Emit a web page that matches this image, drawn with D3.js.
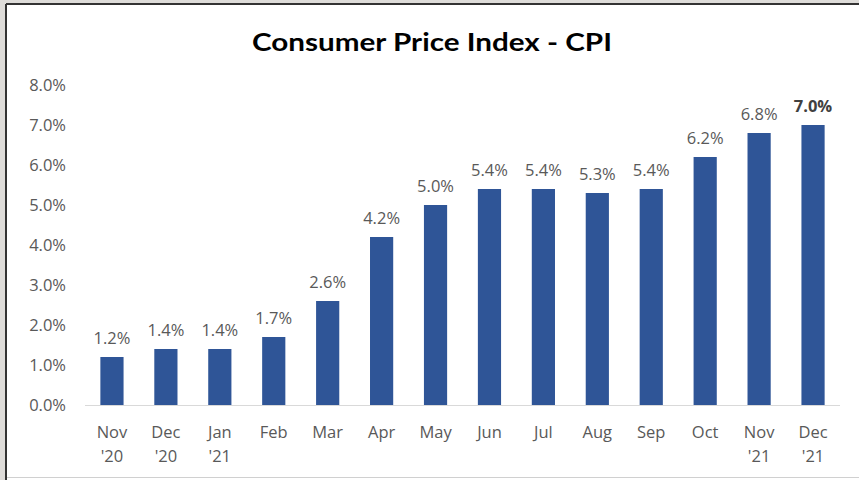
<!DOCTYPE html>
<html><head><meta charset="utf-8">
<script src="https://cdn.jsdelivr.net/npm/d3@7"></script>
<style>body{margin:0;padding:0;background:#fff;} svg{display:block;}</style>
</head><body>
<svg id="c" width="859" height="480"></svg>
<script>
const title = "Consumer Price Index - CPI";
const categories = [["Nov","'20"],["Dec","'20"],["Jan","'21"],["Feb"],["Mar"],["Apr"],["May"],["Jun"],["Jul"],["Aug"],["Sep"],["Oct"],["Nov","'21"],["Dec","'21"]];
const values = [1.2,1.4,1.4,1.7,2.6,4.2,5.0,5.4,5.4,5.3,5.4,6.2,6.8,7.0];
const yTicks = [0,1,2,3,4,5,6,7,8];

const svg = d3.select("#c");
const W = 859, H = 480;
const lblFont = "'Open Sans', sans-serif";
const fs = 16.5;
// frame
svg.append("rect").attr("width",W).attr("height",H).attr("fill","#dedcd9");
svg.append("rect").attr("x",7).attr("y",5).attr("width",W-7).attr("height",H-5).attr("fill","#ffffff");
svg.append("line").attr("x1",6).attr("x2",W).attr("y1",4).attr("y2",4).attr("stroke","#333").attr("stroke-width",2);
svg.append("line").attr("x1",6).attr("x2",6).attr("y1",4).attr("y2",H).attr("stroke","#333").attr("stroke-width",2);
svg.append("line").attr("x1",7).attr("x2",W).attr("y1",477.5).attr("y2",477.5).attr("stroke","#d0d0d0").attr("stroke-width",1);

const x = d3.scaleBand().domain(d3.range(categories.length)).range([85,840]).paddingInner(0.57).paddingOuter(0.285);
const y = d3.scaleLinear().domain([0,8]).range([405,85]);

svg.append("text").attr("x",432).attr("y",51).attr("text-anchor","middle")
  .attr("font-family","Lato, sans-serif").attr("font-weight","bold").attr("font-size",24)
  .attr("textLength",360).attr("lengthAdjust","spacingAndGlyphs")
  .attr("fill","#000").text(title);

// y axis
const yAxis = d3.axisLeft(y).tickValues(yTicks).tickFormat(d=>d.toFixed(1)+"%").tickSize(0).tickPadding(0);
const ga = svg.append("g").attr("transform","translate(66,0)").call(yAxis);
ga.select(".domain").remove();
ga.selectAll("text").attr("font-family",lblFont).attr("font-size",fs).attr("fill","#595959").attr("dy","0.36em");

// baseline
svg.append("line").attr("x1",85).attr("x2",840).attr("y1",y(0)+0.5).attr("y2",y(0)+0.5).attr("stroke","#d9d9d9").attr("stroke-width",1);

// bars
svg.selectAll("rect.bar").data(values).enter().append("rect").attr("class","bar")
  .attr("x",(d,i)=>x(i)).attr("width",x.bandwidth())
  .attr("y",d=>y(d)).attr("height",d=>y(0)-y(d))
  .attr("fill","#2f5597");

// data labels
svg.selectAll("text.lbl").data(values).enter().append("text").attr("class","lbl")
  .attr("x",(d,i)=>x(i)+x.bandwidth()/2).attr("y",d=>y(d)-13)
  .attr("text-anchor","middle").attr("font-family",lblFont).attr("font-size",fs)
  .attr("font-weight",(d,i)=>i===values.length-1?"bold":"normal")
  .attr("fill",(d,i)=>i===values.length-1?"#404040":"#595959").text(d=>d.toFixed(1)+"%");

// category labels
const cl = svg.selectAll("text.cat").data(categories).enter().append("text").attr("class","cat")
  .attr("text-anchor","middle").attr("font-family",lblFont).attr("font-size",fs).attr("fill","#595959");
cl.each(function(d,i){
  const t = d3.select(this);
  d.forEach((s,j)=>{
    t.append("tspan").attr("x",x(i)+x.bandwidth()/2).attr("y",438+j*24).text(s);
  });
});
</script>
</body></html>
